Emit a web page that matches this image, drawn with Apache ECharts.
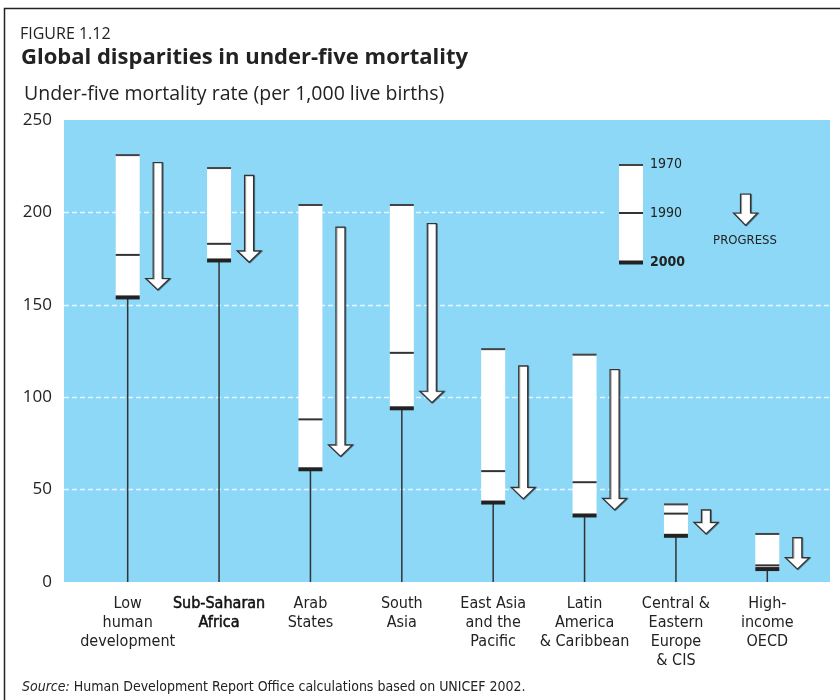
<!DOCTYPE html>
<html>
<head>
<meta charset="utf-8">
<script src="https://cdn.jsdelivr.net/npm/echarts@6/dist/echarts.min.js"></script>
<style>
html,body{margin:0;padding:0;background:#fff;}
#c{width:840px;height:700px;}
</style>
</head>
<body>
<div id="c"></div>
<script>
const categories = ['Low\nhuman\ndevelopment', 'Sub-Saharan\nAfrica', 'Arab\nStates', 'South\nAsia', 'East Asia\nand the\nPacific', 'Latin\nAmerica\n& Caribbean', 'Central &\nEastern\nEurope\n& CIS', 'High-\nincome\nOECD'];
const rate1970 = [231, 224, 204, 204, 126, 123, 42, 26];
const rate1990 = [177, 183, 88, 124, 60, 54, 37, 9];
const rate2000 = [154, 174, 61, 94, 43, 36, 25, 7];
const arrowFrom = [227, 220, 192, 194, 117, 115, 39, 24];
const arrowTo = [158, 173, 68, 97, 45, 39, 26, 7];
const yTicks = [0, 50, 100, 150, 200, 250];
const legendYears = ['1970', '1990', '2000'];
const boldCategory = 'Sub-Saharan\nAfrica';

const SANS = '"Open Sans", "Noto Sans", sans-serif';
const COND = '"DejaVu Sans Condensed", "Liberation Sans Narrow", sans-serif';
const BLUE = '#8DD7F7';
const INK = '#222';

const chart = echarts.init(document.getElementById('c'), null, {renderer: 'canvas'});

function arrowPoints(cx, top, tip, sw, hw, hh) {
  return [[cx - sw, top], [cx + sw, top], [cx + sw, tip - hh], [cx + hw, tip - hh],
          [cx, tip], [cx - hw, tip - hh], [cx - sw, tip - hh]];
}

function renderItem(params, api) {
  const i = api.value(0);
  const base = api.coord([i, 0]);
  const x = base[0];
  const y0 = base[1];
  const y70 = api.coord([i, api.value(1)])[1];
  const y90 = api.coord([i, api.value(2)])[1];
  const y00 = api.coord([i, api.value(3)])[1];
  const ya = api.coord([i, api.value(4)])[1];
  const yb = api.coord([i, api.value(5)])[1];
  const bw = 24;
  const ax = x + 30;
  return {
    type: 'group',
    children: [
      {type: 'line', shape: {x1: x, y1: y00, x2: x, y2: y0}, style: {stroke: '#333', lineWidth: 1.5}},
      {type: 'rect', shape: {x: x - bw / 2, y: y70, width: bw, height: y00 - y70}, style: {fill: '#fff'}},
      {type: 'rect', shape: {x: x - bw / 2, y: y70 - 1, width: bw, height: 2}, style: {fill: '#444'}},
      {type: 'rect', shape: {x: x - bw / 2, y: y90 - 1, width: bw, height: 2}, style: {fill: '#333'}},
      {type: 'rect', shape: {x: x - bw / 2, y: y00 - 2, width: bw, height: 4}, style: {fill: INK}},
      {type: 'polygon', shape: {points: arrowPoints(ax, ya, yb, 4.5, 12, 11.5)},
       style: {fill: '#fff', stroke: '#333', lineWidth: 1.2, shadowColor: 'rgba(0,0,0,0.35)', shadowOffsetX: 1, shadowOffsetY: 0.5, shadowBlur: 0}}
    ]
  };
}

const data = categories.map((c, i) => [i, rate1970[i], rate1990[i], rate2000[i], arrowFrom[i], arrowTo[i]]);

const option = {
  animation: false,
  title: [
    {text: 'FIGURE 1.12', left: 15, top: 21, textStyle: {fontFamily: SANS, fontSize: 16, fontWeight: 'normal', color: INK}},
    {text: 'Global disparities in under-five mortality', left: 16, top: 42, textStyle: {fontFamily: SANS, fontSize: 22, fontWeight: 'bold', color: INK}},
    {text: 'Under-five mortality rate (per 1,000 live births)', left: 19, top: 79, textStyle: {fontFamily: SANS, fontSize: 19.5, fontWeight: 'normal', color: INK}}
  ],
  grid: [
    {left: 64, right: 10, top: 120, bottom: 118, show: true, backgroundColor: BLUE, borderWidth: 0},
    {left: 82, right: 27, top: 120, bottom: 118}
  ],
  xAxis: [
    {gridIndex: 0, type: 'value', min: 0, max: 1, show: false},
    {gridIndex: 1, type: 'category', data: categories,
     axisLine: {show: false}, axisTick: {show: false},
     axisLabel: {
       interval: 0, margin: 12, fontFamily: COND, fontSize: 16, lineHeight: 19, color: INK,
       formatter: function (v) {
         if (v === boldCategory) return v.split('\n').map(s => '{b|' + s + '}').join('\n');
         return v;
       },
       rich: {b: {fontFamily: COND, fontSize: 16, lineHeight: 19, color: '#111', textBorderColor: '#111', textBorderWidth: 0.5}}
     }}
  ],
  yAxis: [
    {gridIndex: 0, type: 'value', min: yTicks[0], max: yTicks[yTicks.length - 1], interval: yTicks[1] - yTicks[0],
     axisLine: {show: false}, axisTick: {show: false},
     axisLabel: {fontFamily: SANS, fontSize: 17, color: INK, margin: 12},
     splitLine: {show: true, showMinLine: false, showMaxLine: false, lineStyle: {color: '#E6F6FD', type: [5, 3], width: 1.3}}},
    {gridIndex: 1, type: 'value', min: yTicks[0], max: yTicks[yTicks.length - 1], show: false}
  ],
  series: [
    {type: 'custom', xAxisIndex: 1, yAxisIndex: 1, data: data, renderItem: renderItem, z: 3,
     encode: {x: 0, y: [1, 2, 3, 4, 5]}}
  ],
  graphic: [
    {type: 'polyline', z: 10, shape: {points: [[4.5, 700], [4.5, 8.5], [840, 8.5]]}, style: {stroke: INK, lineWidth: 1.5, fill: null}},
    {type: 'rect', z: 1, shape: {x: 604, y: 150, width: 225, height: 130}, style: {fill: BLUE}},
    {type: 'rect', z: 5, shape: {x: 619, y: 165, width: 24, height: 98}, style: {fill: '#fff'}},
    {type: 'rect', z: 6, shape: {x: 619, y: 164, width: 24, height: 2}, style: {fill: '#444'}},
    {type: 'rect', z: 6, shape: {x: 619, y: 212, width: 24, height: 2}, style: {fill: '#333'}},
    {type: 'rect', z: 6, shape: {x: 619, y: 260.5, width: 24, height: 4}, style: {fill: INK}},
    {type: 'text', z: 6, style: {text: legendYears[0], x: 650, y: 164, verticalAlign: 'middle', font: '14px ' + COND, fill: INK}},
    {type: 'text', z: 6, style: {text: legendYears[1], x: 650, y: 213, verticalAlign: 'middle', font: '14px ' + COND, fill: INK}},
    {type: 'text', z: 6, style: {text: legendYears[2], x: 650, y: 262, verticalAlign: 'middle', font: 'bold 14px ' + COND, fill: INK}},
    {type: 'polygon', z: 6, shape: {points: arrowPoints(745.5, 194, 225.5, 5, 12, 12.5)}, style: {fill: '#fff', stroke: '#333', lineWidth: 1.2, shadowColor: 'rgba(0,0,0,0.35)', shadowOffsetX: 1, shadowOffsetY: 0.5, shadowBlur: 0}},
    {type: 'text', z: 6, style: {text: 'PROGRESS', x: 745, y: 241, align: 'center', verticalAlign: 'middle', font: '13px ' + COND, fill: INK}},
    {type: 'text', z: 6, style: {
      text: '{i|Source:} Human Development Report Office calculations based on UNICEF 2002.',
      x: 22, y: 687, verticalAlign: 'middle', font: '14px ' + COND, fill: INK,
      rich: {i: {fontStyle: 'italic', fontFamily: COND, fontSize: 14, fill: INK}}
    }}
  ]
};

chart.setOption(option);
</script>
</body>
</html>
